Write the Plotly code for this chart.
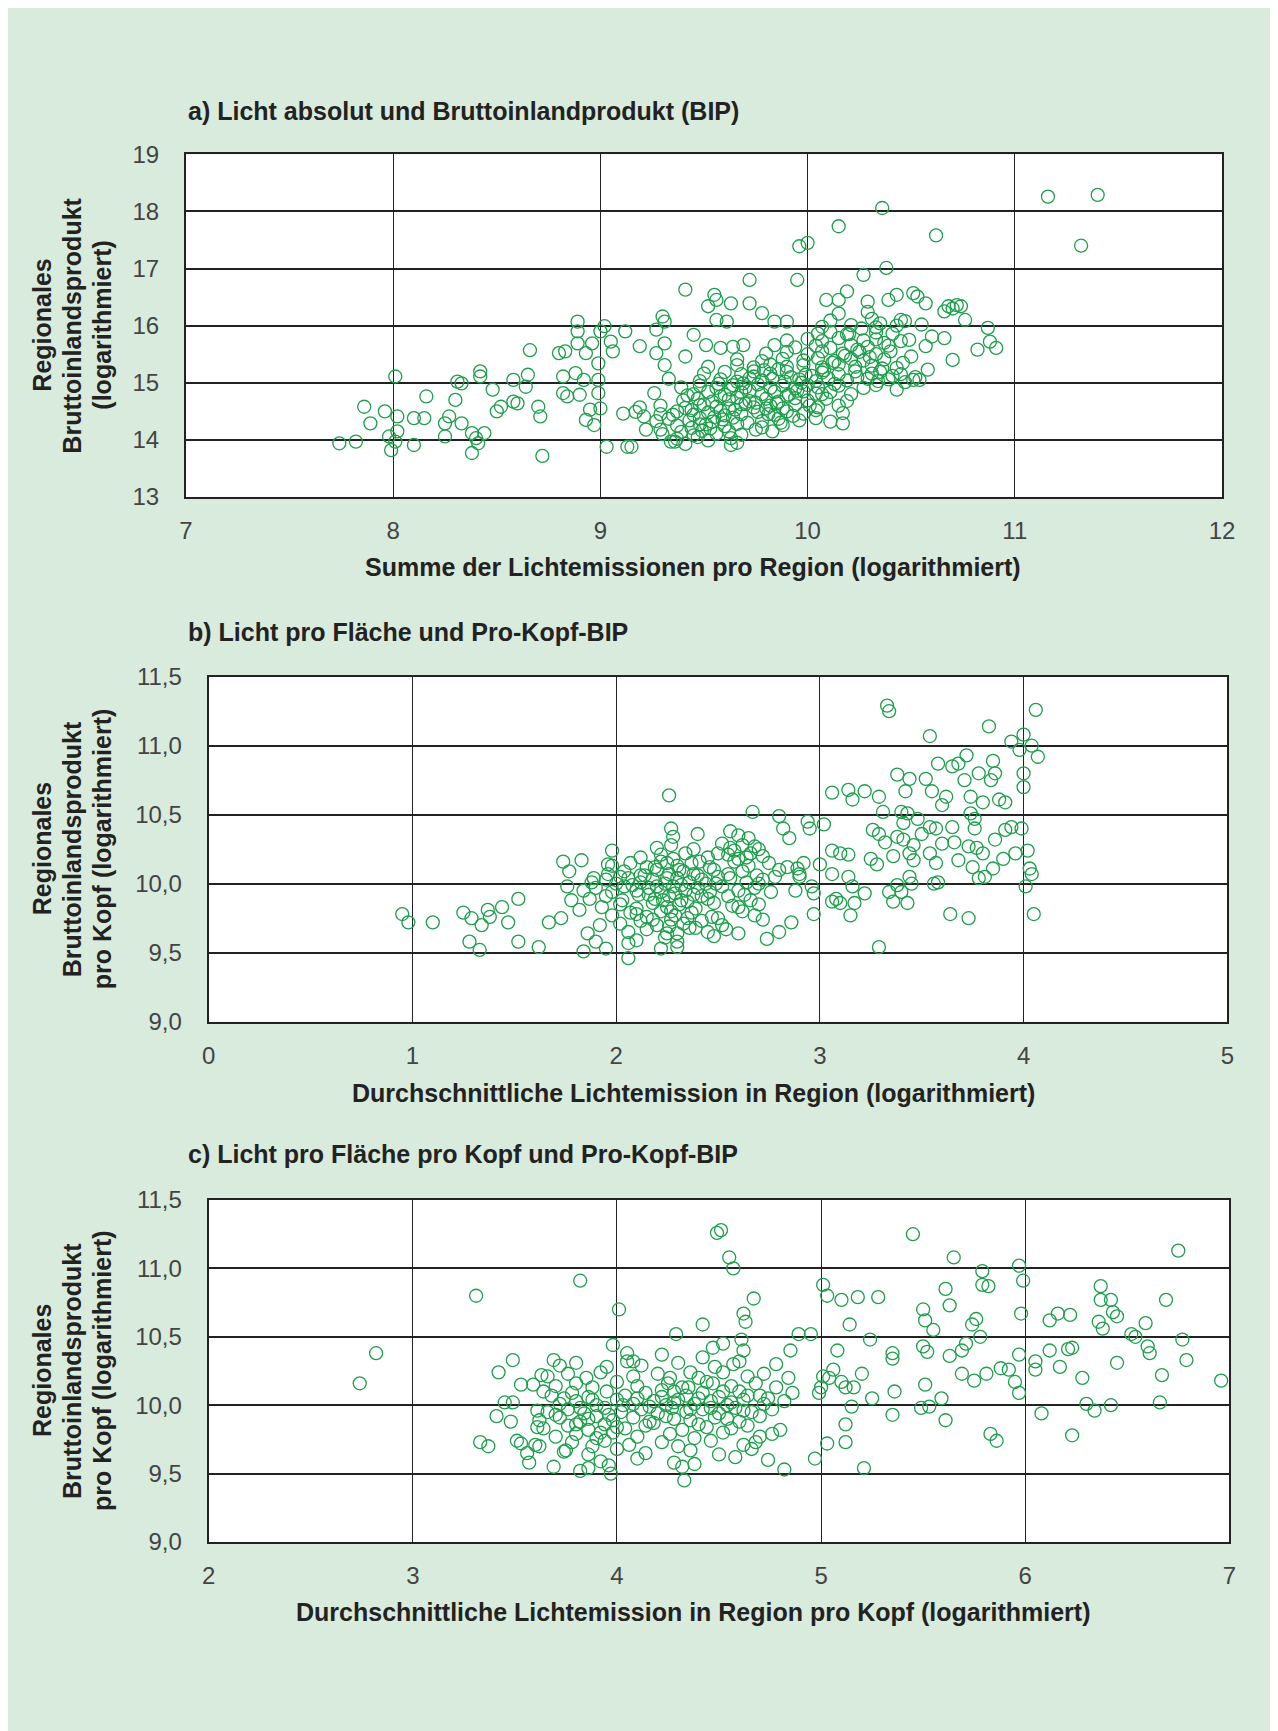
import plotly.graph_objects as go

OFF = 8            # page body margin of the browser
W, H = 1278 - OFF, 1731 - OFF

# ---------------- data ----------------
a_sparse = [(7.74,13.94),(7.82,13.97),(7.86,14.58),(7.89,14.29),(7.96,14.50),(7.98,14.06),(7.99,13.82),(8.01,13.97),(8.02,14.41),(8.01,15.11),(8.02,14.15),(8.10,13.91),(8.10,14.38),(8.15,14.38),(8.16,14.76),(8.25,14.06),(8.25,14.29),(8.27,14.41),(8.30,14.70),(8.31,15.02),(8.33,14.99),(8.33,14.29),(8.38,13.77),(8.38,14.12),(8.40,14.03),(8.41,13.94),(8.42,15.20),(8.42,15.11),(8.44,14.12),(8.48,14.88),(8.50,14.50),(8.52,14.58),(8.58,15.05),(8.58,14.67),(8.60,14.64),(8.64,14.93),(8.65,15.14),(8.66,15.57),(8.70,14.58),(8.71,14.41),(8.72,13.72),(8.80,15.52),(8.82,15.11),(8.82,14.82),(8.84,14.76),(8.83,15.55),(8.88,15.17),(8.89,15.69),(8.89,16.07),(8.89,15.90),(8.90,14.79),(8.92,15.05),(8.93,15.52),(8.93,14.35),(8.95,14.53),(8.96,15.69),(8.97,14.26),(8.99,15.34),(8.99,15.05),(8.99,14.82),(9.00,14.55),(9.00,15.90),(9.02,15.99),(9.03,13.88),(9.05,15.72),(9.06,15.55),(9.12,15.90),(9.13,13.88),(9.15,13.88),(9.19,15.64),(9.21,14.41),(9.22,14.18),(9.27,15.93),(9.27,15.52),(9.29,14.18),(9.30,16.16),(9.31,16.07),(9.31,15.69),(9.31,15.31),(9.36,13.97),(9.41,16.63),(9.41,15.46),(9.45,15.84),(9.51,15.66),(9.52,16.34),(9.55,16.54),(9.56,16.10),(9.56,16.45),(9.61,16.07),(9.63,16.39),(9.58,15.61),(9.63,13.91),(9.69,15.66),(9.72,16.39),(9.72,16.80),(9.78,16.22),(9.84,16.07),(9.90,16.07),(9.95,16.80),(9.96,17.39),(10.00,17.45),(10.15,17.74),(10.27,16.89),(10.36,18.06),(10.38,17.01),(10.62,17.58),(11.16,18.26),(11.40,18.29),(11.32,17.40),(10.17,14.29),(10.09,16.45),(10.15,16.45),(10.19,16.60),(10.29,16.42),(10.39,16.45),(10.43,16.54),(10.51,16.57),(10.53,16.51),(10.57,16.39),(10.68,16.34),(10.72,16.36),(10.74,16.34),(10.76,16.10),(10.87,15.96),(10.88,15.72),(10.91,15.61),(10.82,15.58),(10.70,15.40),(10.66,15.78),(10.60,15.81),(10.58,15.23),(10.54,15.05),(10.51,15.05),(10.43,14.88),(10.43,15.26),(10.50,15.46),(10.57,15.64),(10.55,16.02),(10.45,16.10),(10.35,16.04),(10.66,16.25),(10.70,16.30)]
a_dense = [(9.34,13.97),(9.37,14.02),(9.41,13.93),(9.47,14.05),(9.52,13.99),(9.63,14.03),(9.66,13.95),
(9.30,14.10),(9.39,14.14),(9.45,14.08),(9.49,14.16),(9.56,14.11),(9.62,14.15),(9.68,14.09),
(9.37,14.25),(9.44,14.21),(9.48,14.27),(9.53,14.20),(9.60,14.24),(9.66,14.28),(9.78,14.22),(9.88,14.26),
(9.27,14.33),(9.33,14.37),(9.43,14.34),(9.48,14.38),(9.54,14.32),(9.59,14.36),(9.64,14.39),(9.78,14.33),(9.86,14.37),(9.96,14.34),(10.04,14.38),(10.11,14.32),
(9.11,14.46),(9.17,14.49),(9.29,14.45),(9.37,14.50),(9.45,14.44),(9.52,14.48),(9.58,14.51),(9.68,14.45),(9.76,14.49),(9.84,14.44),(9.90,14.50),(9.98,14.46),(10.04,14.52),(10.17,14.47),
(9.19,14.57),(9.29,14.60),(9.41,14.56),(9.48,14.61),(9.56,14.58),(9.62,14.55),(9.68,14.62),(9.74,14.57),(9.82,14.60),(9.88,14.55),(9.94,14.61),(10.05,14.57),(10.15,14.60),
(9.40,14.69),(9.47,14.72),(9.54,14.67),(9.62,14.71),(9.66,14.74),(9.72,14.68),(9.80,14.72),(9.86,14.67),(9.94,14.73),(10.00,14.69),(10.09,14.72),(10.19,14.68),
(9.26,14.82),(9.45,14.80),(9.52,14.84),(9.60,14.79),(9.68,14.83),(9.72,14.86),(9.78,14.80),(9.84,14.84),(9.91,14.79),(9.98,14.85),(10.04,14.81),(10.11,14.84),(10.21,14.80),
(9.39,14.92),(9.48,14.95),(9.56,14.91),(9.64,14.96),(9.70,14.92),(9.76,14.97),(9.82,14.91),(9.88,14.95),(9.94,14.90),(10.00,14.96),(10.05,14.92),(10.15,14.95),(10.27,14.91),(10.33,14.96),
(9.33,15.07),(9.48,15.03),(9.58,15.06),(9.66,15.02),(9.72,15.08),(9.78,15.04),(9.83,15.07),(9.89,15.02),(9.96,15.06),(10.04,15.03),(10.10,15.08),(10.19,15.04),(10.29,15.07),(10.34,15.03),(10.39,15.06),
(9.50,15.16),(9.60,15.19),(9.68,15.15),(9.74,15.20),(9.82,15.16),(9.90,15.19),(9.99,15.14),(10.07,15.18),(10.15,15.15),(10.23,15.20),(10.31,15.16),(10.35,15.19),(10.45,15.15),
(9.52,15.28),(9.66,15.31),(9.74,15.27),(9.82,15.32),(9.90,15.28),(9.98,15.31),(10.07,15.27),(10.15,15.32),(10.23,15.28),(10.31,15.30),
(9.66,15.41),(9.78,15.38),(9.88,15.42),(9.98,15.39),(10.05,15.43),(10.13,15.38),(10.21,15.42),(10.27,15.39),(10.37,15.41),
(9.80,15.51),(9.90,15.54),(10.00,15.50),(10.07,15.55),(10.17,15.51),(10.25,15.54),(10.33,15.50),
(9.64,15.63),(9.84,15.66),(9.94,15.62),(10.04,15.65),(10.11,15.61),(10.21,15.66),(10.29,15.63),(10.39,15.65),
(9.90,15.74),(10.00,15.77),(10.07,15.73),(10.15,15.78),(10.27,15.74),(10.33,15.76),(10.45,15.73),
(10.05,15.86),(10.11,15.89),(10.19,15.85),(10.33,15.88),(10.41,15.86),
(10.07,15.98),(10.21,16.01),(10.33,15.97),(10.43,16.00),
(10.11,16.09),(10.31,16.12),(10.47,16.08),
(10.15,16.21),(10.29,16.24)]
a_dense2 = [(9.55,14.40),(9.60,14.43),(9.65,14.53),(9.70,14.63),(9.75,14.65),(9.80,14.55),(9.85,14.64),(9.90,14.77),(9.95,14.86),(9.58,14.76),(9.63,14.88),(9.69,14.99),(9.74,15.11),(9.79,15.22),(9.86,15.24),(9.92,15.10),(9.97,15.00),(10.02,15.12),(10.08,15.22),(10.12,15.35),(10.18,15.47),(10.24,15.58),(10.30,15.45),(10.36,15.25),(10.41,15.12),(10.47,15.01),(10.52,15.10),(9.50,14.62),(9.44,14.52),(9.35,14.44),(9.42,14.78),(9.57,14.98),(9.81,14.45),(9.87,14.30),(9.93,14.42),(10.01,14.60),(10.07,14.80),(10.13,14.98),(10.24,15.10),(10.20,15.85),(10.26,15.95),(10.37,15.70),(10.40,15.55),(10.46,15.35),(10.49,15.75),(9.71,14.30),(9.75,14.18),(9.83,14.15),(9.51,14.27)]

b_sparse = [(0.95,9.78),(0.98,9.72),(1.10,9.72),(1.25,9.79),(1.29,9.75),(1.28,9.58),(1.33,9.52),(1.34,9.70),(1.37,9.81),(1.38,9.76),(1.44,9.83),(1.47,9.72),(1.52,9.89),(1.52,9.58),(1.62,9.54),(1.67,9.72),(1.73,9.75),(1.74,10.16),(1.77,10.09),(1.76,9.98),(1.78,9.88),(1.82,9.81),(1.83,10.17),(1.84,9.51),(1.86,9.64),(1.89,10.04),(1.90,9.58),(1.92,9.70),(1.95,9.53),(1.96,10.14),(1.98,10.24),(2.26,10.64),(2.06,9.46),(2.06,9.57),(2.22,9.53),(2.30,9.54),(2.30,9.64),
(3.33,11.29),(3.34,11.25),(4.06,11.26),(3.83,11.14),(3.54,11.07),(4.00,11.08),(3.94,11.03),(4.04,11.00),(3.98,10.97),(4.07,10.92),(3.72,10.93),(3.68,10.87),(3.58,10.87),(3.65,10.85),(3.78,10.80),(3.85,10.89),(3.86,10.80),(4.00,10.80),(3.38,10.79),(3.44,10.76),(3.52,10.76),(3.71,10.75),(3.84,10.75),(4.00,10.70),(3.55,10.67),(3.42,10.67),(3.22,10.67),(3.06,10.66),(3.14,10.68),(3.16,10.61),(3.29,10.63),(3.62,10.63),(3.74,10.63),(3.80,10.59),(3.88,10.61),(3.91,10.59),(3.60,10.57),(3.74,10.51),(3.31,10.52),(3.40,10.52),(3.43,10.51),(3.41,10.44),(3.48,10.47),(3.76,10.47),(3.54,10.41),(3.57,10.40),(3.65,10.41),(3.76,10.40),(3.99,10.40),(3.91,10.39),(3.94,10.41),(3.26,10.39),(3.29,10.36),(3.02,10.43),(2.94,10.45),(2.95,10.40),(2.80,10.49),(2.82,10.40),(2.85,10.33),(2.67,10.52),(3.32,10.30),(3.38,10.34),(3.41,10.32),(3.46,10.28),(3.50,10.36),(3.60,10.29),(3.66,10.30),(3.73,10.27),(3.77,10.26),(3.86,10.32),(4.02,10.24),(3.96,10.22),(3.06,10.24),(3.10,10.22),(3.14,10.21),(3.25,10.18),(3.28,10.14),(3.36,10.20),(3.44,10.22),(3.46,10.17),(3.54,10.22),(3.57,10.15),(3.68,10.17),(3.75,10.12),(3.80,10.22),(3.85,10.11),(3.90,10.18),(4.03,10.11),(4.04,10.07),(3.78,10.04),(3.81,10.05),(3.56,10.00),(3.58,10.01),(3.44,10.05),(3.38,9.99),(3.34,9.94),(3.40,9.94),(3.45,10.00),(3.36,9.87),(3.43,9.86),(4.01,9.98),(4.05,9.78),(3.64,9.78),(3.73,9.75),(3.29,9.54),(3.14,10.05),(3.16,9.98),(3.22,9.93),(3.08,9.89),(3.10,9.86),(3.06,9.87),(3.17,9.86),(3.15,9.77),(2.97,9.78),(2.96,9.98),(2.97,9.93),(2.88,9.95),(2.86,9.72),(2.74,9.60),(2.80,9.65),(3.00,10.14),(2.92,10.15),(2.89,10.11),(2.90,10.05),(3.06,10.07)]
b_dense = [(2.27,10.40),(2.56,10.38),
(2.28,10.34),(2.40,10.36),(2.60,10.35),(2.65,10.33),
(2.20,10.26),(2.27,10.28),(2.38,10.25),(2.52,10.29),(2.56,10.26),(2.62,10.28),(2.70,10.25),
(2.12,10.19),(2.22,10.21),(2.28,10.18),(2.34,10.22),(2.45,10.19),(2.55,10.21),(2.60,10.18),(2.66,10.22),(2.72,10.20),
(1.98,10.13),(2.07,10.15),(2.15,10.12),(2.22,10.16),(2.30,10.13),(2.37,10.15),(2.46,10.12),(2.58,10.16),(2.65,10.13),(2.75,10.15),(2.84,10.12),
(1.96,10.07),(2.04,10.09),(2.12,10.06),(2.20,10.10),(2.26,10.07),(2.33,10.09),(2.40,10.06),(2.48,10.10),(2.55,10.07),(2.62,10.09),(2.69,10.06),(2.80,10.10),(2.90,10.07),
(1.88,10.01),(1.95,10.03),(2.00,10.00),(2.06,10.04),(2.12,10.01),(2.18,10.03),(2.24,10.00),(2.30,10.04),(2.36,10.01),(2.42,10.03),(2.49,10.00),(2.56,10.04),(2.64,10.01),(2.72,10.03),
(1.84,9.95),(1.90,9.97),(1.98,9.94),(2.04,9.98),(2.10,9.95),(2.16,9.97),(2.22,9.94),(2.28,9.98),(2.34,9.95),(2.40,9.97),(2.46,9.94),(2.52,9.98),(2.60,9.95),(2.68,9.97),(2.76,9.94),
(1.87,9.89),(1.95,9.91),(2.03,9.88),(2.11,9.92),(2.19,9.89),(2.26,9.91),(2.32,9.88),(2.38,9.92),(2.45,9.89),(2.55,9.91),(2.66,9.88),
(1.93,9.83),(2.02,9.85),(2.10,9.82),(2.18,9.86),(2.25,9.83),(2.31,9.85),(2.39,9.82),(2.48,9.86),(2.60,9.83),(2.70,9.85),
(1.98,9.77),(2.07,9.79),(2.15,9.76),(2.22,9.80),(2.29,9.77),(2.37,9.79),(2.47,9.76),(2.62,9.80),(2.68,9.77),
(2.02,9.71),(2.12,9.73),(2.20,9.70),(2.27,9.74),(2.33,9.71),(2.42,9.73),(2.52,9.70),(2.72,9.74),
(2.06,9.65),(2.15,9.67),(2.25,9.64),(2.36,9.68),(2.45,9.65),(2.54,9.67),(2.60,9.64),
(2.10,9.59),(2.24,9.61),(2.30,9.58),(2.48,9.62)]
b_dense2 = [(2.02,10.05),(2.08,9.99),(2.14,10.06),(2.20,9.98),(2.25,10.04),(2.32,9.99),(2.38,10.07),(2.44,10.00),(2.50,10.05),(2.16,9.92),(2.23,9.88),(2.29,9.93),(2.35,9.87),(2.42,9.91),(2.19,10.12),(2.25,10.15),(2.31,10.10),(2.41,10.16),(2.50,10.22),(2.58,10.24),(2.64,10.19),(2.68,10.27),(2.35,9.75),(2.27,9.80),(2.18,9.74),(2.10,9.78),(2.26,9.69),(2.39,9.68),(2.50,9.75),(2.57,9.84),(2.63,9.92),(2.70,10.00),(2.78,10.05)]

c_sparse = [(2.74,10.16),(2.82,10.38),(3.31,10.80),(3.33,9.73),(3.37,9.70),(3.42,10.24),(3.41,9.92),(3.45,10.02),(3.49,10.33),(3.49,10.02),(3.48,9.88),(3.51,9.74),(3.53,10.15),(3.53,9.72),(3.57,9.58),(3.59,10.15),(3.61,9.96),(3.61,9.84),(3.62,9.70),(3.63,10.22),(3.69,10.33),(3.69,9.55),(3.74,9.66),(3.82,10.91),(3.82,9.52),(3.97,9.50),(4.01,10.70),(3.98,10.44),(4.29,10.52),(4.33,9.45),(4.42,10.59),(4.49,11.26),(4.51,11.28),(4.55,11.08),(4.57,11.00),(4.67,10.78),(4.62,10.67),(4.63,10.61),(4.61,10.48),(4.89,10.52),(4.95,10.52),(4.85,10.40),(5.01,10.88),(5.03,10.80),(5.10,10.77),(5.18,10.79),(5.28,10.79),(5.14,10.59),(5.24,10.48),(5.08,10.40),(5.45,11.25),(5.65,11.08),(5.79,10.98),(5.79,10.88),(5.82,10.87),(5.61,10.85),(5.63,10.73),(5.50,10.70),(5.51,10.62),(5.55,10.55),(5.76,10.63),(5.74,10.59),(5.78,10.50),(5.71,10.45),(5.69,10.40),(5.50,10.43),(5.52,10.39),(5.63,10.36),(5.35,10.38),(5.35,10.34),(5.97,11.02),(5.99,10.91),(5.98,10.67),(5.97,10.37),(6.75,11.13),(6.37,10.87),(6.37,10.77),(6.42,10.77),(6.69,10.77),(6.16,10.67),(6.22,10.66),(6.12,10.62),(6.36,10.61),(6.38,10.56),(6.43,10.68),(6.45,10.65),(6.59,10.60),(6.52,10.52),(6.54,10.50),(6.77,10.48),(6.60,10.43),(6.61,10.38),(6.12,10.40),(6.21,10.41),(6.23,10.42),(6.05,10.32),(6.05,10.26),(6.17,10.28),(6.45,10.31),(6.79,10.33),(5.88,10.27),(5.92,10.26),(5.81,10.23),(5.69,10.23),(5.75,10.18),(5.95,10.17),(5.97,10.09),(6.28,10.20),(6.67,10.22),(6.96,10.18),(6.30,10.01),(6.34,9.96),(6.42,10.00),(6.66,10.02),(6.08,9.94),(6.23,9.78),(5.83,9.79),(5.86,9.74),(5.61,9.89),(5.59,10.05),(5.53,9.99),(5.49,9.98),(5.51,10.15),(5.35,9.93),(5.36,10.10),(5.25,10.05),(5.15,9.99),(5.12,9.86),(5.12,9.73),(5.03,9.72),(5.21,9.54),(4.97,9.61),(5.16,10.13),(5.20,10.23),(5.06,10.26),(5.04,10.20),(5.00,10.13),(4.99,10.09),(5.10,10.17),(5.12,10.13),(5.01,10.21),
(4.47,10.42),(4.52,10.45),(4.62,10.40),(4.57,10.30),(4.42,10.35),(4.05,10.38),(4.08,10.32),(4.22,10.37)]
c_dense = [(3.72,10.29),(3.80,10.31),(3.95,10.28),(4.05,10.32),(4.12,10.29),(4.30,10.31),(4.48,10.28),(4.60,10.32),(4.78,10.30),
(3.66,10.21),(3.76,10.23),(3.85,10.20),(3.92,10.24),(4.08,10.21),(4.20,10.23),(4.40,10.20),(4.52,10.24),(4.64,10.21),(4.72,10.23),(4.84,10.20),
(3.70,10.14),(3.80,10.16),(3.88,10.13),(4.00,10.17),(4.10,10.14),(4.25,10.16),(4.35,10.13),(4.44,10.17),(4.56,10.14),(4.68,10.16),(4.78,10.13),
(3.68,10.07),(3.78,10.09),(3.86,10.06),(3.95,10.10),(4.04,10.07),(4.14,10.09),(4.22,10.06),(4.28,10.10),(4.34,10.07),(4.42,10.09),(4.50,10.06),(4.60,10.10),(4.70,10.07),(4.86,10.09),
(3.72,10.01),(3.80,10.03),(3.90,10.00),(4.00,10.04),(4.08,10.01),(4.18,10.03),(4.24,10.00),(4.30,10.04),(4.38,10.01),(4.46,10.03),(4.54,10.00),(4.62,10.04),(4.72,10.01),(4.82,10.03),
(3.66,9.95),(3.76,9.97),(3.84,9.94),(3.94,9.98),(4.02,9.95),(4.12,9.97),(4.20,9.94),(4.27,9.98),(4.34,9.95),(4.42,9.97),(4.50,9.94),(4.58,9.98),(4.66,9.95),(4.76,9.97),
(3.62,9.89),(3.72,9.91),(3.82,9.88),(3.90,9.92),(3.98,9.89),(4.08,9.91),(4.16,9.88),(4.24,9.92),(4.36,9.89),(4.48,9.91),(4.60,9.88),(4.70,9.92),
(3.64,9.83),(3.76,9.85),(3.86,9.82),(3.94,9.86),(4.04,9.83),(4.14,9.85),(4.32,9.82),(4.40,9.86),(4.56,9.83),(4.64,9.85),(4.80,9.82),
(3.70,9.77),(3.80,9.79),(3.90,9.76),(3.98,9.80),(4.10,9.77),(4.26,9.79),(4.38,9.76),(4.52,9.80),(4.70,9.77),(4.76,9.79),
(3.60,9.71),(3.78,9.73),(3.88,9.70),(3.94,9.74),(4.06,9.71),(4.22,9.73),(4.30,9.70),(4.46,9.74),(4.62,9.71),(4.68,9.73),
(3.56,9.65),(3.75,9.67),(3.86,9.64),(4.00,9.68),(4.14,9.65),(4.36,9.67),(4.50,9.64),(4.66,9.68),
(3.92,9.59),(4.10,9.61),(4.28,9.58),(4.58,9.62),(4.74,9.60),
(3.86,9.54),(3.96,9.56),(4.32,9.55),(4.38,9.57),(4.82,9.53)]
c_dense2 = [(3.74,10.05),(3.82,9.98),(3.88,10.04),(3.96,9.93),(4.03,10.00),(4.10,10.05),(4.16,9.99),(4.22,10.11),(4.28,10.02),(4.32,10.13),(4.36,9.97),(4.40,10.05),(4.46,9.98),(4.52,10.10),(4.56,10.02),(4.62,9.96),(3.80,9.86),(3.86,9.90),(3.92,9.80),(4.00,9.84),(4.18,9.87),(4.28,9.90),(4.44,9.84),(4.54,9.90),(4.64,10.07),(4.74,10.05),(3.70,9.93),(3.64,10.10),(4.26,10.20),(4.36,10.24),(4.47,10.16)]

titles = ["a) Licht absolut und Bruttoinlandprodukt (BIP)",
          "b) Licht pro Fläche und Pro-Kopf-BIP",
          "c) Licht pro Fläche pro Kopf und Pro-Kopf-BIP"]
xtitles = ["Summe der Lichtemissionen pro Region (logarithmiert)",
           "Durchschnittliche Lichtemission in Region (logarithmiert)",
           "Durchschnittliche Lichtemission in Region pro Kopf (logarithmiert)"]
ytitles = [["Regionales", "Bruttoinlandsprodukt", "(logarithmiert)"],
           ["Regionales", "Bruttoinlandsprodukt", "pro Kopf (logarithmiert)"],
           ["Regionales", "Bruttoinlandsprodukt", "pro Kopf (logarithmiert)"]]
xranges = [(7, 12), (0, 5), (2, 7)]
yranges = [(13, 19), (9, 11.5), (9, 11.5)]
ydticks = [1, 0.5, 0.5]
yfmts = ["d", ".1f", ".1f"]

# ---------------- layout geometry (screen pixels) ----------------
boxes = [(186, 154.3, 1222, 497), (208.7, 676.7, 1227.3, 1021.7), (208.7, 1200, 1229.3, 1542)]
title_y = [111, 632, 1154]
xtitle_y = [567, 1093, 1612]
ytitle_x = [42, 72, 102]

def px(x): return (x - OFF) / W
def py(y): return 1 - (y - OFF) / H

GREEN = "#1d9f4b"
BG = "#d8ebdc"
FONT = "Liberation Sans, Arial, sans-serif"
TFONT = dict(size=25, color="#222", family=FONT)
TICKC = "#444"

fig = go.Figure()
panels = [a_sparse + a_dense + a_dense2, b_sparse + b_dense + b_dense2, c_sparse + c_dense + c_dense2]
for i, pts in enumerate(panels):
    n = "" if i == 0 else str(i + 1)
    fig.add_trace(go.Scatter(
        x=[p[0] for p in pts], y=[p[1] for p in pts], mode="markers",
        marker=dict(symbol="circle-open", size=13, color=GREEN, line=dict(width=1.3, color=GREEN)),
        xaxis="x" + n, yaxis="y" + n, showlegend=False, hoverinfo="skip"))

layout = dict(width=W, height=H, margin=dict(l=0, r=0, t=0, b=0),
              paper_bgcolor=BG, plot_bgcolor="white", separators=",.",
              font=dict(family=FONT, size=24, color=TICKC), showlegend=False)
annotations = []
for i in range(3):
    n = "" if i == 0 else str(i + 1)
    x0, y0, x1, y1 = boxes[i]
    layout["xaxis" + n] = dict(domain=[px(x0), px(x1)], range=list(xranges[i]), dtick=1, tick0=0,
                              anchor="y" + n, showgrid=True, gridcolor="#222", gridwidth=1,
                              showline=True, linecolor="#222", linewidth=2, mirror=True,
                              zeroline=False, ticks="", ticklabelstandoff=11,
                              tickfont=dict(size=24, color=TICKC), automargin=False)
    layout["yaxis" + n] = dict(domain=[py(y1), py(y0)], range=list(yranges[i]), dtick=ydticks[i],
                              tick0=0, anchor="x" + n, showgrid=True, gridcolor="#222", gridwidth=1.5,
                              showline=True, linecolor="#222", linewidth=2, mirror=True,
                              zeroline=False, ticks="", ticklabelstandoff=20, tickformat=yfmts[i],
                              tickfont=dict(size=24, color=TICKC), automargin=False)
    annotations.append(dict(text="<b>%s</b>" % titles[i], xref="paper", yref="paper",
                            x=px(186), y=py(title_y[i]), xanchor="left", yanchor="middle",
                            showarrow=False, font=TFONT))
    annotations.append(dict(text="<b>%s</b>" % xtitles[i], xref="paper", yref="paper",
                            x=px(693), y=py(xtitle_y[i]), xanchor="center", yanchor="middle",
                            showarrow=False, font=TFONT))
    cy = (y0 + y1) / 2
    for j, line in enumerate(ytitles[i]):
        annotations.append(dict(text="<b>%s</b>" % line, xref="paper", yref="paper",
                                x=px(ytitle_x[j]), y=py(cy), xanchor="center", yanchor="middle",
                                textangle=-90, showarrow=False, font=TFONT))
layout["annotations"] = annotations
fig.update_layout(**layout)
fig.write_html("out.html")
